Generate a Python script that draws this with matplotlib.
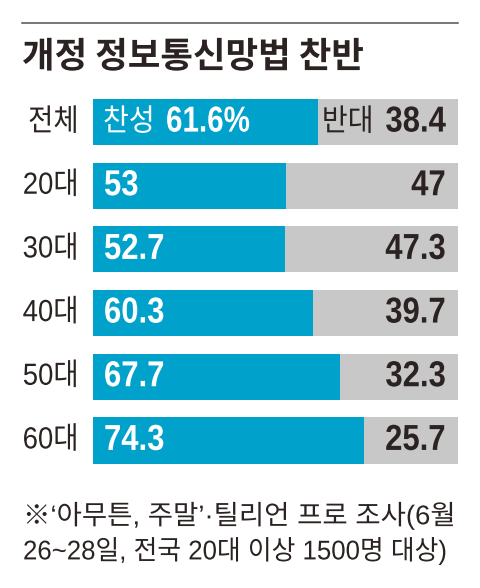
import matplotlib
matplotlib.use("Agg")
import matplotlib.pyplot as plt
from matplotlib.patheffects import AbstractPathEffect
from matplotlib.transforms import Affine2D

categories = ['전체', '20대', '30대', '40대', '50대', '60대']
favor = [61.6, 53, 52.7, 60.3, 67.7, 74.3]
oppose = [38.4, 47, 47.3, 39.7, 32.3, 25.7]
favor_labels = ['61.6%', '53', '52.7', '60.3', '67.7', '74.3']
oppose_labels = ['38.4', '47', '47.3', '39.7', '32.3', '25.7']
title = '개정 정보통신망법 찬반'
note_lines = ['※‘아무튼, 주말’·틸리언 프로 조사(6월', '26~28일, 전국 20대 이상 1500명 대상)']

W, H = 480, 588
BLUE, GRAY, DARK = '#00a2cb', '#c8c8c8', '#2a2321'
KR = ['Noto Sans CJK KR', 'DejaVu Sans']
MIX = ['Liberation Sans', 'Noto Sans CJK KR', 'DejaVu Sans']
plt.rcParams['font.family'] = MIX


class Squeeze(AbstractPathEffect):
    """Narrow a text horizontally, holding its left or right end fixed."""
    def __init__(self, sx, anchor='left'):
        super().__init__()
        self.sx, self.anchor = sx, anchor

    def draw_path(self, renderer, gc, tpath, affine, rgbFace=None):
        x0 = tpath.vertices[:, 0].max() if self.anchor == 'right' else 0
        t = Affine2D().translate(-x0, 0).scale(self.sx, 1).translate(x0, 0)
        renderer.draw_path(gc, tpath, t + affine, rgbFace)


fig = plt.figure(figsize=(4.8, 5.88), dpi=100)
fig.patch.set_facecolor('white')
top, bot, left, right = 99, 463.5, 93, 458
ax = fig.add_axes([left/W, 1-bot/H, (right-left)/W, (bot-top)/H])
bar_h = 0.725
ax.barh(range(6), favor, height=bar_h, color=BLUE, linewidth=0)
ax.barh(range(6), oppose, left=favor, height=bar_h, color=GRAY, linewidth=0)
ax.set_xlim(0, 100)
ax.set_ylim(5 + bar_h/2, -bar_h/2)
ax.axis('off')


def ftext(px, py, s, sx=1.0, **kw):
    fig.text(px/W, 1-py/H, s, path_effects=[Squeeze(sx)], **kw)


def label(s, xy, dx, size, color, sx, anchor='left', **kw):
    ax.annotate(s, xy, xytext=(dx, 0), textcoords='offset pixels', ha=anchor, va='center',
                fontsize=size, color=color, path_effects=[Squeeze(sx, anchor)], **kw)


fig.add_artist(plt.Line2D([22/W, 458/W], [1-22.5/H]*2, color='#555050', lw=1.1))
ftext(22, 57, title, family=KR, fontsize=25.5, fontweight='bold', color=DARK, va='center', ha='left')

for i, (c, fl, ol) in enumerate(zip(categories, favor_labels, oppose_labels)):
    label(c, (0, i), -14, 22, DARK, 0.9, 'right', family=KR if i == 0 else MIX)
    label(fl, (0, i), 73 if i == 0 else 11, 26, 'white', 0.82 if i == 0 else 0.86, fontweight='bold')
    label(ol, (100, i), -12, 26, DARK, 0.86, 'right', fontweight='bold')

label('찬성', (0, 0), 10, 22, 'white', 0.92, family=KR)
label('반대', (favor[0], 0), 4, 22, DARK, 0.92, family=KR)

ftext(23, 516, note_lines[0], sx=1.015, fontsize=19.5, color=DARK, va='center', ha='left')
ftext(23, 551, note_lines[1], sx=0.953, fontsize=19.5, color=DARK, va='center', ha='left')

fig.savefig('out.png', dpi=100)
